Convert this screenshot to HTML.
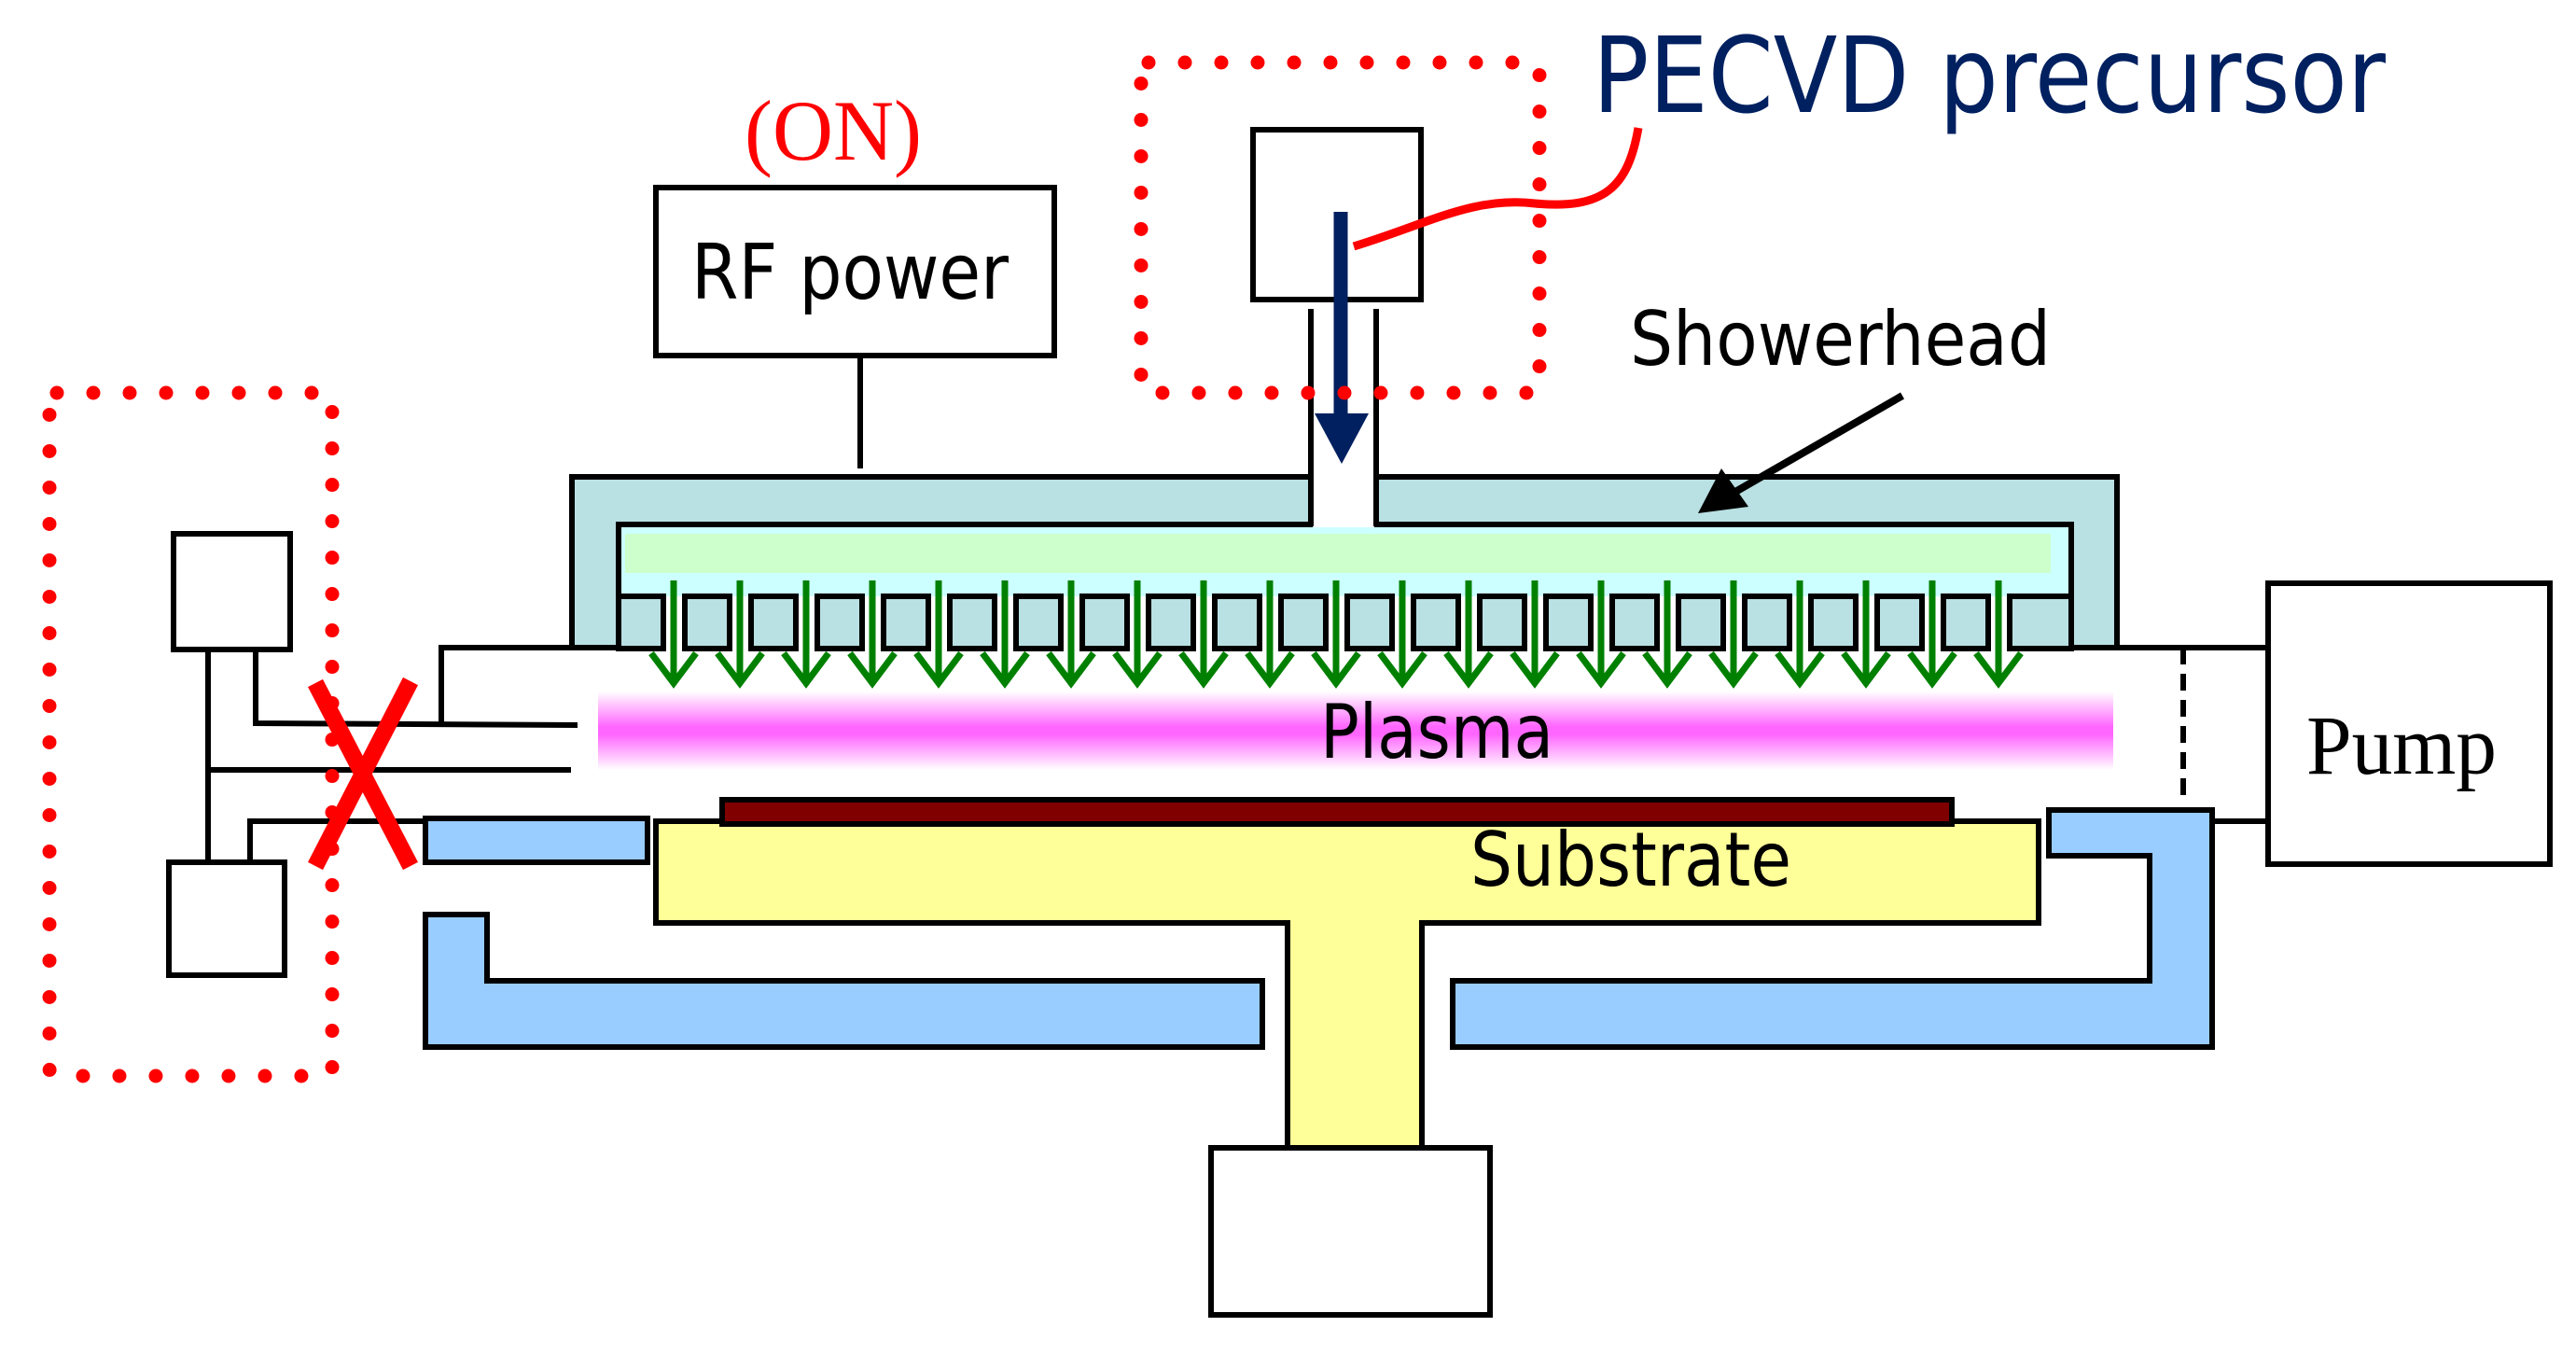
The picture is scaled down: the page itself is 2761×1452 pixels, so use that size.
<!DOCTYPE html>
<html><head><meta charset="utf-8"><style>html,body{margin:0;padding:0;background:#fff}svg{display:block}</style></head>
<body>
<svg width="2761" height="1452" viewBox="0 0 2761 1452" xmlns="http://www.w3.org/2000/svg">
<defs>
<linearGradient id="pl" x1="0" y1="0" x2="0" y2="1">
<stop offset="0" stop-color="#fff"/><stop offset="0.45" stop-color="#ff66ff"/><stop offset="0.55" stop-color="#ff66ff"/><stop offset="1" stop-color="#fff"/>
</linearGradient>
</defs>
<g stroke="#000" stroke-width="6" fill="none">
<rect x="186" y="572" width="125" height="124" fill="#fff"/>
<rect x="181" y="924" width="124" height="121" fill="#fff"/>
<line x1="223" y1="696" x2="223" y2="924"/>
<polyline points="274,696 274,775 619,777"/>
<line x1="223" y1="825" x2="612" y2="825"/>
<polyline points="268,924 268,880 456,880"/>
<polyline points="473,776 473,694 615,694"/>
<line x1="2269" y1="694" x2="2431" y2="694"/>
<line x1="2371" y1="880" x2="2431" y2="880"/>
<line x1="2340" y1="694" x2="2340" y2="857" stroke-dasharray="18 10"/>
<rect x="2431" y="625" width="302" height="301" fill="#fff"/>
<rect x="703" y="201" width="427" height="180" fill="#fff"/>
<line x1="922" y1="381" x2="922" y2="502"/>
</g>
<rect x="641" y="741" width="1624" height="84" fill="url(#pl)"/>
<rect x="663" y="562" width="1557" height="77" fill="#ccffff"/>
<rect x="670" y="572" width="1528" height="42" fill="#ccffcc"/>
<path d="M613,694 V511 H2269 V694 H2220 V562 H663 V694 Z" fill="#b9e0e3" stroke="#000" stroke-width="6"/>
<g fill="#b9e0e3" stroke="#000" stroke-width="6">
<rect x="663" y="639" width="48" height="56"/><rect x="734" y="639" width="48" height="56"/><rect x="805" y="639" width="48" height="56"/><rect x="876" y="639" width="48" height="56"/><rect x="947" y="639" width="48" height="56"/><rect x="1018" y="639" width="48" height="56"/><rect x="1089" y="639" width="48" height="56"/><rect x="1160" y="639" width="48" height="56"/><rect x="1231" y="639" width="48" height="56"/><rect x="1302" y="639" width="48" height="56"/><rect x="1373" y="639" width="48" height="56"/><rect x="1444" y="639" width="48" height="56"/><rect x="1515" y="639" width="48" height="56"/><rect x="1586" y="639" width="48" height="56"/><rect x="1657" y="639" width="48" height="56"/><rect x="1728" y="639" width="48" height="56"/><rect x="1799" y="639" width="48" height="56"/><rect x="1870" y="639" width="48" height="56"/><rect x="1941" y="639" width="48" height="56"/><rect x="2012" y="639" width="48" height="56"/><rect x="2083" y="639" width="48" height="56"/><rect x="2154" y="639" width="66" height="56"/>
</g>
<g stroke="#008000" stroke-width="7" fill="none">
<path d="M722,622V732M698,700L722,732L746,700"/><path d="M793,622V732M769,700L793,732L817,700"/><path d="M864,622V732M840,700L864,732L888,700"/><path d="M935,622V732M911,700L935,732L959,700"/><path d="M1006,622V732M982,700L1006,732L1030,700"/><path d="M1077,622V732M1053,700L1077,732L1101,700"/><path d="M1148,622V732M1124,700L1148,732L1172,700"/><path d="M1219,622V732M1195,700L1219,732L1243,700"/><path d="M1290,622V732M1266,700L1290,732L1314,700"/><path d="M1361,622V732M1337,700L1361,732L1385,700"/><path d="M1432,622V732M1408,700L1432,732L1456,700"/><path d="M1503,622V732M1479,700L1503,732L1527,700"/><path d="M1574,622V732M1550,700L1574,732L1598,700"/><path d="M1645,622V732M1621,700L1645,732L1669,700"/><path d="M1716,622V732M1692,700L1716,732L1740,700"/><path d="M1787,622V732M1763,700L1787,732L1811,700"/><path d="M1858,622V732M1834,700L1858,732L1882,700"/><path d="M1929,622V732M1905,700L1929,732L1953,700"/><path d="M2000,622V732M1976,700L2000,732L2024,700"/><path d="M2071,622V732M2047,700L2071,732L2095,700"/><path d="M2142,622V732M2118,700L2142,732L2166,700"/>
</g>
<rect x="1407" y="505" width="66" height="60" fill="#fff"/>
<g stroke="#000" stroke-width="6"><line x1="1405" y1="331" x2="1405" y2="564"/><line x1="1475" y1="331" x2="1475" y2="564"/></g>
<rect x="1343" y="139" width="180" height="182" fill="#fff" stroke="#000" stroke-width="6"/>
<line x1="1437" y1="227" x2="1437" y2="450" stroke="#002060" stroke-width="15"/>
<polygon points="1409,443 1467,443 1438,497" fill="#002060"/>
<path d="M1451,264 C1530,240 1580,210 1645,218 C1720,225 1745,200 1756,137" fill="none" stroke="#ff0000" stroke-width="9"/>
<path d="M703,880 H2185 V989 H1524 V1230 H1380 V989 H703 Z" fill="#ffff99" stroke="#000" stroke-width="6"/>
<rect x="774" y="857" width="1318" height="26" fill="#800000" stroke="#000" stroke-width="6"/>
<rect x="1298" y="1230" width="299" height="179" fill="#fff" stroke="#000" stroke-width="6"/>
<g fill="#99ccff" stroke="#000" stroke-width="6">
<rect x="456" y="877" width="238" height="47"/>
<path d="M456,980 H522 V1051 H1353 V1122 H456 Z"/>
<path d="M2196,868 H2371 V1122 H1557 V1051 H2304 V917 H2196 Z"/>
</g>
<g fill="none" stroke="#ff0000" stroke-width="15" stroke-linecap="round" stroke-dasharray="0 39">
<rect x="53" y="421" width="303" height="732" rx="8"/>
<rect x="1223" y="67" width="427" height="354" rx="8"/>
</g>
<g stroke="#ff0000" stroke-width="18"><line x1="338" y1="732" x2="440" y2="928"/><line x1="440" y1="730" x2="338" y2="928"/></g>
<line x1="2039" y1="424" x2="1860" y2="527" stroke="#000" stroke-width="8"/>
<polygon points="1820,550 1845,502 1874,543" fill="#000"/>
<g font-family="DejaVu Sans, Liberation Sans, sans-serif">
<text x="741" y="320" font-size="82" textLength="340" lengthAdjust="spacingAndGlyphs">RF power</text>
<text x="1707" y="120" font-size="112" fill="#002060" textLength="850" lengthAdjust="spacingAndGlyphs">PECVD precursor</text>
<text x="1747" y="391" font-size="80" textLength="451" lengthAdjust="spacingAndGlyphs">Showerhead</text>
<text x="1415" y="812" font-size="80" textLength="250" lengthAdjust="spacingAndGlyphs">Plasma</text>
<text x="1576" y="949" font-size="80" textLength="344" lengthAdjust="spacingAndGlyphs">Substrate</text>
</g>
<g font-family="Liberation Serif, serif">
<text x="798" y="171" font-size="92" fill="#ff0000" textLength="190" lengthAdjust="spacingAndGlyphs">(ON)</text>
<text x="2472" y="829" font-size="90" textLength="204" lengthAdjust="spacingAndGlyphs">Pump</text>
</g>
</svg>
</body></html>
